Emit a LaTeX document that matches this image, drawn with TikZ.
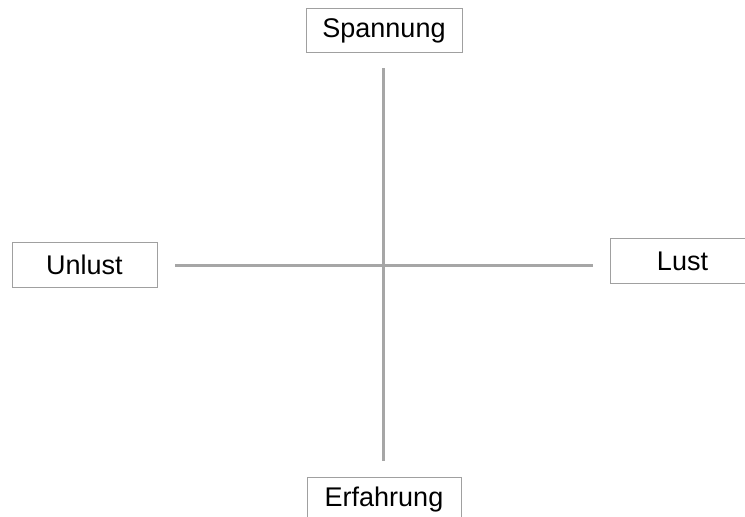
\documentclass[tikz,border=0pt]{standalone}
\usepackage{fontspec}
\setmainfont{Liberation Sans}
\definecolor{axisgray}{HTML}{A6A6A6}
\definecolor{boxgray}{HTML}{A0A0A0}
\begin{document}
\begin{tikzpicture}[x=1pt,y=-1pt,
  lbl/.style={draw=boxgray,line width=1pt,fill=white,inner sep=0pt,font=\fontsize{27}{30}\selectfont,text=black},
  axis/.style={draw=axisgray,line width=3pt}]
\useasboundingbox (0,0) rectangle (745,517);
\clip (0,0) rectangle (745,517);
\node[lbl,minimum width=156pt,minimum height=44.5pt] (sp) at (384,30.5) {Spannung};
\node[lbl,minimum width=145pt,minimum height=44.5pt] (un) at (84.5,265) {Unlust};
\node[lbl,minimum width=145pt,minimum height=44.5pt] (lu) at (682.5,261) {Lust};
\node[lbl,minimum width=154pt,minimum height=44.5pt] (er) at (384,500) {Erfahrung};
\coordinate (vt) at (383.5,68);
\coordinate (vb) at (383.5,461);
\coordinate (hl) at (175,265);
\coordinate (hr) at (593,265);
\draw[axis] (vt) -- (vb);
\draw[axis] (hl) -- (hr);
\end{tikzpicture}
\end{document}
